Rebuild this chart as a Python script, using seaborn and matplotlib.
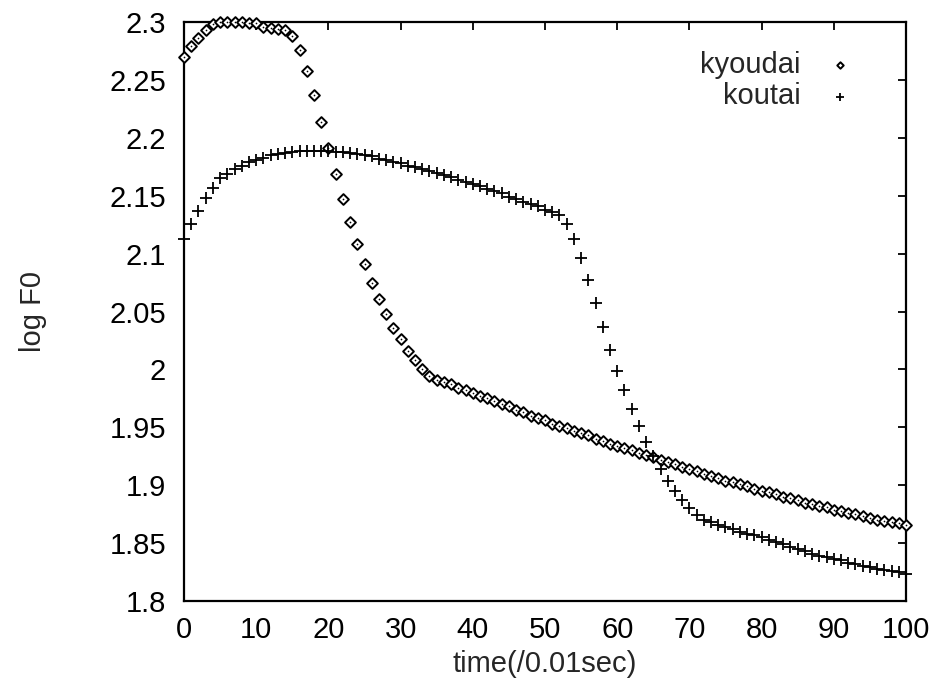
import matplotlib
matplotlib.use("Agg")
import matplotlib.pyplot as plt
import seaborn as sns
import pandas as pd
from matplotlib.ticker import FuncFormatter

# time frames (0.01 sec units)
time = list(range(101))

kyoudai = [
    2.270, 2.279, 2.286, 2.293, 2.298, 2.300, 2.300, 2.300, 2.300, 2.299,
    2.299, 2.296, 2.295, 2.294, 2.293, 2.288, 2.276, 2.258, 2.237, 2.214,
    2.191, 2.169, 2.147, 2.127, 2.108, 2.091, 2.075, 2.061, 2.048, 2.036,
    2.026, 2.016, 2.008, 2.000, 1.994, 1.991, 1.989, 1.987, 1.984, 1.982,
    1.980, 1.977, 1.975, 1.973, 1.970, 1.968, 1.965, 1.963, 1.960, 1.958,
    1.956, 1.953, 1.951, 1.949, 1.947, 1.945, 1.943, 1.940, 1.938, 1.936,
    1.934, 1.932, 1.930, 1.928, 1.926, 1.924, 1.922, 1.920, 1.918, 1.916,
    1.914, 1.912, 1.910, 1.908, 1.906, 1.904, 1.903, 1.901, 1.899, 1.897,
    1.895, 1.894, 1.892, 1.890, 1.889, 1.887, 1.885, 1.884, 1.882, 1.881,
    1.879, 1.878, 1.876, 1.875, 1.873, 1.872, 1.870, 1.869, 1.868, 1.867,
    1.866,
]

koutai = [
    2.113, 2.126, 2.137, 2.148, 2.157, 2.165, 2.169, 2.173, 2.176, 2.179,
    2.181, 2.183, 2.185, 2.186, 2.187, 2.188, 2.189, 2.189, 2.189, 2.189,
    2.189, 2.188, 2.188, 2.187, 2.186, 2.185, 2.184, 2.182, 2.181, 2.179,
    2.178, 2.176, 2.175, 2.173, 2.171, 2.170, 2.168, 2.166, 2.164, 2.162,
    2.160, 2.158, 2.156, 2.154, 2.152, 2.149, 2.147, 2.145, 2.143, 2.141,
    2.138, 2.136, 2.133, 2.126, 2.113, 2.096, 2.077, 2.057, 2.037, 2.017,
    1.999, 1.982, 1.966, 1.951, 1.937, 1.925, 1.914, 1.904, 1.895, 1.887,
    1.880, 1.874, 1.870, 1.868, 1.866, 1.864, 1.862, 1.860, 1.858, 1.857,
    1.855, 1.853, 1.851, 1.849, 1.847, 1.845, 1.843, 1.841, 1.839, 1.838,
    1.836, 1.835, 1.833, 1.832, 1.830, 1.829, 1.828, 1.827, 1.826, 1.825,
    1.823,
]

yticks = [1.8, 1.85, 1.9, 1.95, 2.0, 2.05, 2.1, 2.15, 2.2, 2.25, 2.3]

df = pd.DataFrame({'time': time, 'kyoudai': kyoudai, 'koutai': koutai})

sns.set_style("white")
plt.rcParams['font.family'] = ['Liberation Sans', 'DejaVu Sans']

fig = plt.figure(figsize=(9.37, 6.8), dpi=100)
ax = fig.add_axes([0.1964, 0.1162, 0.7705, 0.8514])

sns.scatterplot(data=df, x='time', y='kyoudai', marker='D', s=30,
                facecolor='white', edgecolor='black', linewidth=1.4,
                label='kyoudai', ax=ax, clip_on=False, zorder=3)
# gnuplot-style centre dot inside each diamond
sns.scatterplot(data=df, x='time', y='kyoudai', marker='o', s=1.5,
                color='black', linewidth=0, legend=False, ax=ax,
                clip_on=False, zorder=4)
sns.scatterplot(data=df, x='time', y='koutai', marker='+', s=75,
                color='black', linewidth=1.3,
                label='koutai', ax=ax, clip_on=False, zorder=3)

ax.set_xlim(0, 100)
ax.set_ylim(1.8, 2.3)
ax.set_xticks(range(0, 101, 10))
ax.set_yticks(yticks)
ax.yaxis.set_major_formatter(FuncFormatter(lambda v, p: '%g' % round(v, 2)))

ax.tick_params(direction='in', top=True, right=True, length=6, width=1.3,
               labelsize=21, colors='black')
ax.tick_params(axis='x', pad=11)
ax.tick_params(axis='y', pad=13)
for sp in ax.spines.values():
    sp.set_color('black')
    sp.set_linewidth(1.6)

ax.set_xlabel('time(/0.01sec)', fontsize=21)
ax.set_ylabel('log F0', fontsize=21)
ax.xaxis.set_label_coords(0.5, -0.085)
ax.yaxis.set_label_coords(-0.19, 0.5)

leg = ax.legend(loc='upper right', bbox_to_anchor=(0.929, 0.95),
                frameon=False, markerfirst=False, fontsize=21,
                markerscale=0.6, handletextpad=0.85, labelspacing=0.12,
                borderaxespad=0, borderpad=0, handlelength=1.0)
leg._legend_box.align = 'right'

fig.savefig('out.png', dpi=100)
